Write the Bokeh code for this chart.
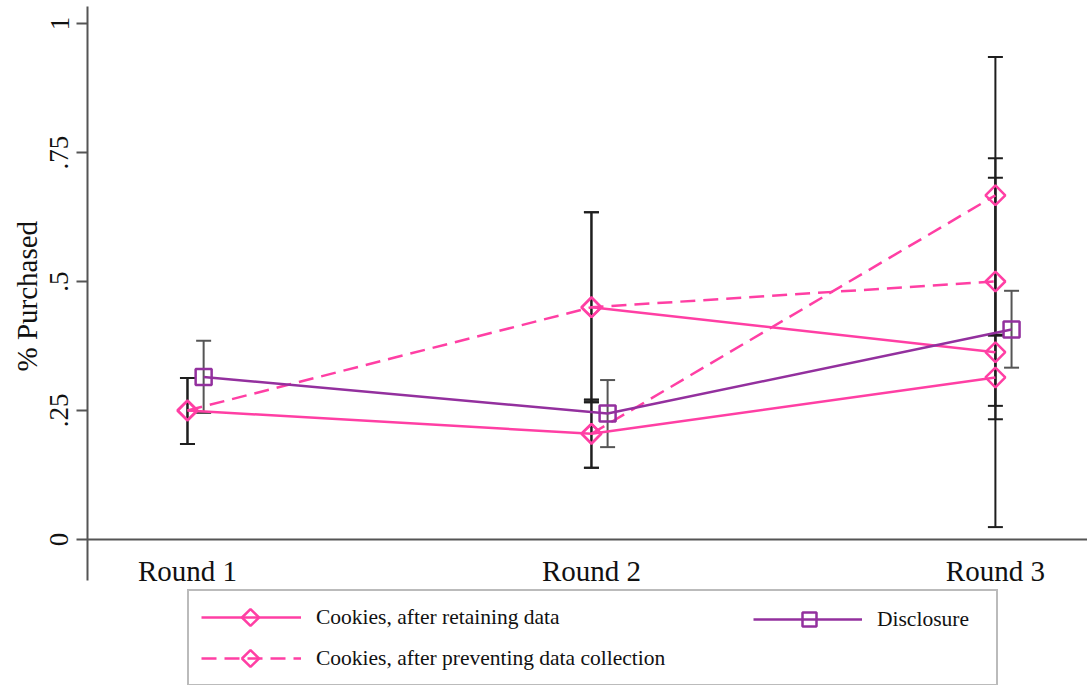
import numpy as np
from bokeh.plotting import figure
from bokeh.models import (ColumnDataSource, Whisker, TeeHead, Legend, LegendItem,
                          FixedTicker, Range1d, Title)
from bokeh.embed import file_html
from bokeh.resources import INLINE

nan = np.nan

# ---- data -------------------------------------------------------------
rounds = ["Round 1", "Round 2", "Round 3"]
y_ticks = [0, 0.25, 0.5, 0.75, 1]
y_tick_labels = ["0", ".25", ".5", ".75", "1"]

# Cookies, after retaining data (two groups)
retain_a = [0.25, 0.205, 0.314]
retain_a_lo = [0.185, 0.139, 0.233]
retain_a_hi = [0.313, 0.271, 0.395]
retain_b = [nan, 0.45, 0.363]
retain_b_lo = [nan, 0.266, 0.024]
retain_b_hi = [nan, 0.634, 0.701]

# Cookies, after preventing data collection (two groups)
prevent_a = [0.25, 0.45, 0.5]
prevent_a_lo = [0.185, 0.266, 0.259]
prevent_a_hi = [0.313, 0.634, 0.739]
prevent_b = [nan, 0.205, 0.667]
prevent_b_lo = [nan, 0.139, 0.397]
prevent_b_hi = [nan, 0.271, 0.935]

# Disclosure
disclosure = [0.315, 0.244, 0.407]
disclosure_lo = [0.245, 0.179, 0.333]
disclosure_hi = [0.385, 0.309, 0.482]

legend_labels = ["Cookies, after retaining data",
                 "Cookies, after preventing data collection",
                 "Disclosure"]
y_title = "% Purchased"

# ---- styling ----------------------------------------------------------
PINK = "#FF3FA4"
PURPLE = "#93309E"
BAR_DARK = "#1e1e1e"
BAR_GRAY = "#555555"
AXIS = "#555555"
TEXT = "#111111"
SERIF = "Liberation Serif"
DASH = "15 8"
DODGE = 0.04                # horizontal shift of the disclosure series
X_VIEW = (0.7525, 3.228)
AXIS_Y = (-0.0795, 1.033)   # extent of the drawn y axis
VIEW_Y = (-0.283, 1.033)    # plotting area, including room for the key below
W, H = 1087, 685
BORDER_L, BORDER_T = 87, 6

x_idx = np.arange(1, len(rounds) + 1, dtype=float)

p = figure(width=W, height=H,
           x_range=Range1d(*X_VIEW), y_range=Range1d(*VIEW_Y),
           output_backend="svg", toolbar_location=None,
           min_border_left=BORDER_L, min_border_right=0,
           min_border_top=BORDER_T, min_border_bottom=0)
p.outline_line_color = None
p.xgrid.visible = False
p.ygrid.visible = False
p.background_fill_color = "white"
p.border_fill_color = "white"


def px_to_x(px):
    return X_VIEW[0] + (px - BORDER_L) * (X_VIEW[1] - X_VIEW[0]) / (W - BORDER_L)


def px_to_y(py):
    return VIEW_Y[1] - (py - BORDER_T) * (VIEW_Y[1] - VIEW_Y[0]) / (H - BORDER_T)


def add_bars(xs, lo, hi, color):
    keep = [i for i in range(len(xs)) if not (np.isnan(lo[i]) or np.isnan(hi[i]))]
    src = ColumnDataSource(dict(x=[xs[i] for i in keep],
                                lo=[lo[i] for i in keep],
                                hi=[hi[i] for i in keep]))
    w = Whisker(source=src, base="x", lower="lo", upper="hi", dimension="height",
                line_color=color, line_width=2,
                upper_head=TeeHead(size=15, line_color=color, line_width=2),
                lower_head=TeeHead(size=15, line_color=color, line_width=2))
    p.add_layout(w)


def add_series(xs, ys, color, dash, size, angle):
    ln = p.line(xs, ys, line_color=color, line_width=2.5, line_dash=dash)
    p.scatter(xs, ys, marker="square", size=size, angle=angle,
              fill_color=None, line_color=color, line_width=2.5)
    return ln


DIAMOND = np.pi / 4   # a square turned by 45 degrees
l_retain = add_series(x_idx, retain_a, PINK, "solid", 14, DIAMOND)
add_series(x_idx, retain_b, PINK, "solid", 14, DIAMOND)
l_prevent = add_series(x_idx, prevent_a, PINK, DASH, 14, DIAMOND)
add_series(x_idx, prevent_b, PINK, DASH, 14, DIAMOND)
l_disc = add_series(x_idx + DODGE, disclosure, PURPLE, "solid", 16, 0)

add_bars(list(x_idx), retain_a_lo, retain_a_hi, BAR_DARK)
add_bars(list(x_idx), retain_b_lo, retain_b_hi, BAR_DARK)
add_bars(list(x_idx), prevent_a_lo, prevent_a_hi, BAR_DARK)
add_bars(list(x_idx), prevent_b_lo, prevent_b_hi, BAR_DARK)
add_bars(list(x_idx + DODGE), disclosure_lo, disclosure_hi, BAR_GRAY)

# ---- axes -------------------------------------------------------------
xa = p.xaxis[0]
xa.fixed_location = 0
xa.ticker = FixedTicker(ticks=list(x_idx))
xa.major_label_overrides = {int(v): lab for v, lab in zip(x_idx, rounds)}
xa.major_tick_out = 0
xa.major_tick_in = 0
xa.minor_tick_out = 0
xa.minor_tick_in = 0
xa.axis_line_color = AXIS
xa.axis_line_width = 2
xa.major_label_standoff = 16
xa.major_label_text_font = SERIF
xa.major_label_text_font_size = "29px"
xa.major_label_text_color = TEXT

ya = p.yaxis[0]
ya.bounds = AXIS_Y
ya.ticker = FixedTicker(ticks=y_ticks)
ya.major_label_overrides = {v: lab for v, lab in zip(y_ticks, y_tick_labels)}
ya.major_label_orientation = "vertical"
ya.major_tick_out = 11
ya.major_tick_in = 0
ya.minor_tick_out = 0
ya.minor_tick_in = 0
ya.axis_line_color = AXIS
ya.axis_line_width = 2
ya.major_tick_line_color = AXIS
ya.major_tick_line_width = 2
ya.major_label_standoff = 8
ya.major_label_text_font = SERIF
ya.major_label_text_font_size = "27px"
ya.major_label_text_color = TEXT

# y title, placed along the drawn part of the axis
p.add_layout(Title(text=y_title, align="left", offset=314, standoff=10,
                   text_font=SERIF, text_font_size="29px", text_font_style="normal",
                   text_color=TEXT), "left")

# ---- legend -----------------------------------------------------------
legend_style = dict(orientation="vertical", padding=12, margin=0, spacing=13,
                    glyph_height=28, label_standoff=15,
                    label_text_font=SERIF, label_text_font_size="21.5px",
                    label_text_color=TEXT, background_fill_alpha=0)
leg_main = Legend(
    items=[LegendItem(label=legend_labels[0], renderers=[l_retain]),
           LegendItem(label=legend_labels[1], renderers=[l_prevent])],
    location=(100, -1), border_line_color="#777777", border_line_width=2,
    glyph_width=100, label_width=668, **legend_style)
leg_disc = Legend(
    items=[LegendItem(label=legend_labels[2], renderers=[l_disc])],
    location=(666, 52), border_line_color=None,
    glyph_width=109, **legend_style)
p.add_layout(leg_main)
p.add_layout(leg_disc)

# marker symbols drawn on top of the legend keys (key centres in pixels)
key_marks = [
    (250, 617, PINK, 12, DIAMOND),
    (250, 658, PINK, 12, DIAMOND),
    (809, 619, PURPLE, 14, 0),
]
for kx, ky, color, size, ang in key_marks:
    p.scatter([px_to_x(kx)], [px_to_y(ky)], marker="square", size=size, angle=ang,
              fill_color=None, line_color=color, line_width=2.5, level="overlay")

open("out.html", "w").write(file_html(p, INLINE))
